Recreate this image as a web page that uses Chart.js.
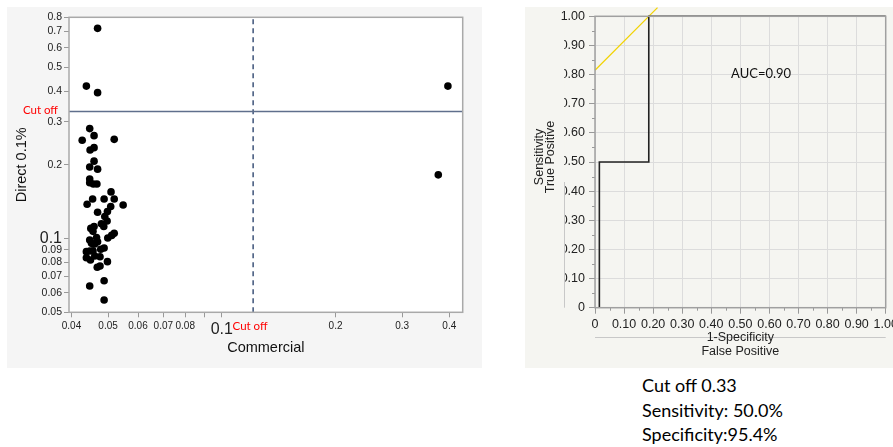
<!DOCTYPE html>
<html>
<head>
<meta charset="utf-8">
<script src="https://cdn.jsdelivr.net/npm/chart.js@4.4.1/dist/chart.umd.min.js"></script>
<style>
  body { margin: 0; width: 893px; height: 447px; background: #fff; position: relative; overflow: hidden; }
  #leftBox { position: absolute; left: 7px; top: 7px; width: 475px; height: 361px; background: #f5f5f5; }
  #rightBox { position: absolute; left: 525px; top: 7px; width: 368px; height: 361px; background: #f5f5f1; }
  #stats { position: absolute; left: 642px; top: 373px; font: 18px Lato, sans-serif; line-height: 24.5px; color: #000; }
</style>
</head>
<body>
<div id="leftBox"><canvas id="scatterChart" width="475" height="361"></canvas></div>
<div id="rightBox"><canvas id="rocChart" width="368" height="361"></canvas></div>
<div id="stats">Cut off 0.33<br>Sensitivity: 50.0%<br>Specificity:95.4%</div>

<script>
// left chart data (log-log)
const commercial = [0.0469, 0.0438, 0.0469, 0.0447, 0.0459, 0.0427, 0.0519, 0.0448, 0.0459, 0.0459,
  0.0447, 0.0469, 0.0447, 0.0447, 0.0457, 0.0467, 0.0509, 0.0519, 0.0455, 0.0440,
  0.0488, 0.0548, 0.0508, 0.0469, 0.0498, 0.0490, 0.0497, 0.0459, 0.0450, 0.0480,
  0.0487, 0.0456, 0.0519, 0.0511, 0.0499, 0.0447, 0.0466, 0.0469, 0.0452, 0.0461,
  0.0438, 0.0447, 0.0456, 0.0488, 0.0478, 0.0438, 0.0449, 0.0461, 0.0476, 0.0498,
  0.0468, 0.0476, 0.0488, 0.0447, 0.0488, 0.3966, 0.374];
const direct = [0.721, 0.419, 0.394, 0.281, 0.263, 0.252, 0.254, 0.230, 0.235, 0.207,
  0.196, 0.192, 0.175, 0.169, 0.167, 0.167, 0.155, 0.145, 0.145, 0.138,
  0.145, 0.137, 0.135, 0.128, 0.129, 0.123, 0.118, 0.112, 0.110, 0.115,
  0.112, 0.107, 0.105, 0.103, 0.1005, 0.0986, 0.101, 0.0971, 0.0956, 0.0950,
  0.0884, 0.0890, 0.0892, 0.0915, 0.0904, 0.0835, 0.0817, 0.0849, 0.0843, 0.0805,
  0.0764, 0.0773, 0.0673, 0.0640, 0.0561, 0.419, 0.182];
const cutDirect = 0.33;
const cutCommercial = 0.121;
const xTicks = [0.04, 0.05, 0.06, 0.07, 0.08, 0.09, 0.1, 0.2, 0.3, 0.4];
const xLabels = ['0.04', '0.05', '0.06', '0.07', '0.08', '', '0.1', '0.2', '0.3', '0.4'];
const yTicks = [0.05, 0.06, 0.07, 0.08, 0.09, 0.1, 0.2, 0.3, 0.4, 0.5, 0.6, 0.7, 0.8];
const xMin = 0.0394, xMax = 0.434, yMin = 0.05, yMax = 0.8;

// ROC data
const fpr = [0.015, 0.015, 0.185, 0.185, 1.0];
const tpr = [0, 0.5, 0.5, 1.0, 1.0];
const tangentX = [0, 0.215];
const tangentY = [0.815, 1.03];
const rocTicks = [0, 0.1, 0.2, 0.3, 0.4, 0.5, 0.6, 0.7, 0.8, 0.9, 1.0];
const aucText = 'AUC=0.90';

const pts = commercial.map((c, i) => ({ x: c, y: direct[i] }));

const smallFont = { size: 10, family: '"Liberation Sans", Arial' };
const bigFont = { size: 16, family: '"Liberation Sans", Arial' };

const leftPlugin = {
  id: 'leftDeco',
  beforeDatasetsDraw(chart) {
    const { ctx, chartArea: a } = chart;
    ctx.save();
    ctx.fillStyle = '#fff';
    ctx.fillRect(a.left, a.top, a.right - a.left, a.bottom - a.top);
    ctx.restore();
  },
  afterDraw(chart) {
    const { ctx, chartArea: a, scales } = chart;
    ctx.save();
    ctx.strokeStyle = '#a9a9a9';
    ctx.lineWidth = 1.5;
    ctx.strokeRect(a.left, a.top, a.right - a.left, a.bottom - a.top);
    ctx.fillStyle = '#ff0000';
    ctx.font = '11.5px Lato, sans-serif';
    ctx.textBaseline = 'middle';
    ctx.textAlign = 'right';
    ctx.fillText('Cut off', 51, scales.y.getPixelForValue(cutDirect) - 1);
    ctx.textAlign = 'center';
    ctx.fillText('Cut off', scales.x.getPixelForValue(cutCommercial) - 3, 319);
    ctx.fillStyle = '#111';
    ctx.font = '14.5px "Liberation Sans", Arial, sans-serif';
    ctx.fillText('Commercial', (a.left + a.right) / 2, 341);
    ctx.translate(15, (a.top + a.bottom) / 2);
    ctx.rotate(-Math.PI / 2);
    ctx.fillText('Direct 0.1%', 0, 0);
    ctx.restore();
  }
};

new Chart('scatterChart', {
  type: 'scatter',
  data: {
    datasets: [
      { data: [{ x: xMin, y: cutDirect }, { x: xMax, y: cutDirect }], showLine: true, borderColor: '#5f6f8c', borderWidth: 1.6, pointRadius: 0 },
      { data: [{ x: cutCommercial, y: yMin }, { x: cutCommercial, y: yMax }], showLine: true, borderColor: '#1f3864', borderWidth: 1.3, borderDash: [5, 4], pointRadius: 0 },
      { data: pts, backgroundColor: '#000', borderColor: '#000', pointRadius: 3.8, pointBorderWidth: 0 }
    ]
  },
  options: {
    responsive: false,
    animation: false,
    layout: { padding: { top: 10.3, right: 19.3, left: 0, bottom: 0 } },
    plugins: { legend: { display: false }, tooltip: { enabled: false } },
    scales: {
      x: {
        type: 'logarithmic', min: xMin, max: xMax,
        afterBuildTicks: s => { s.ticks = xTicks.map(v => ({ value: v })); },
        afterFit: s => { s.height = 55.7; s.paddingLeft = 0; s.paddingRight = 0; },
        grid: { drawOnChartArea: false, drawTicks: true, tickLength: 5, color: '#999' },
        border: { display: false },
        ticks: {
          autoSkip: false, maxRotation: 0, padding: 3, color: '#222',
          callback: (v, i) => xLabels[i],
          font: c => (c.tick && c.tick.value === 0.1) ? bigFont : smallFont
        }
      },
      y: {
        type: 'logarithmic', min: yMin, max: yMax,
        afterBuildTicks: s => { s.ticks = yTicks.map(v => ({ value: v })); },
        afterFit: s => { s.width = 62; s.paddingTop = 0; s.paddingBottom = 0; },
        grid: { drawOnChartArea: false, drawTicks: true, tickLength: 5, color: '#999' },
        border: { display: false },
        ticks: {
          autoSkip: false, padding: 2, color: '#222',
          callback: v => String(v),
          font: c => (c.tick && c.tick.value === 0.1) ? bigFont : { size: 10.5, family: '"Liberation Sans", Arial' }
        }
      }
    }
  },
  plugins: [leftPlugin]
});

const rocPlugin = {
  id: 'rocDeco',
  beforeDatasetsDraw(chart) {
    const { ctx, chartArea: a, scales } = chart;
    ctx.save();
    // minor ticks
    ctx.strokeStyle = '#999';
    ctx.lineWidth = 1;
    for (let i = 0; i < rocTicks.length - 1; i++) {
      const m = (rocTicks[i] + rocTicks[i + 1]) / 2;
      const px = Math.round(scales.x.getPixelForValue(m)) + 0.5;
      const py = Math.round(scales.y.getPixelForValue(m)) + 0.5;
      ctx.beginPath();
      ctx.moveTo(px, a.bottom); ctx.lineTo(px, a.bottom + 3);
      ctx.moveTo(a.left, py); ctx.lineTo(a.left - 3, py);
      ctx.stroke();
    }
    ctx.restore();
  },
  afterDraw(chart) {
    const { ctx, chartArea: a, scales } = chart;
    ctx.save();
    ctx.strokeStyle = '#a0a0a0';
    ctx.lineWidth = 1.5;
    ctx.strokeRect(a.left, a.top, a.right - a.left, a.bottom - a.top);
    // the y labels are cut at the axis box edge, as in the original
    ctx.fillStyle = '#f5f5f1';
    ctx.fillRect(32, a.top + 12, 7.2, a.bottom - a.top - 20);
    // separators
    ctx.strokeStyle = '#c8c8c8';
    ctx.lineWidth = 1;
    ctx.beginPath();
    ctx.moveTo(a.left, 330.5); ctx.lineTo(a.right, 330.5);
    ctx.moveTo(39.5, 175); ctx.lineTo(39.5, a.bottom);
    ctx.stroke();
    ctx.fillStyle = '#222';
    ctx.font = '12.5px "Liberation Sans", Arial, sans-serif';
    ctx.textAlign = 'center';
    ctx.textBaseline = 'middle';
    const cx = (a.left + a.right) / 2;
    ctx.fillText('1-Specificity', cx, 330.5);
    ctx.fillText('False Positive', cx, 345);
    ctx.save();
    ctx.translate(15, 150);
    ctx.rotate(-Math.PI / 2);
    ctx.fillText('Sensitivity', 0, 0);
    ctx.fillText('True Positive', 0, 11);
    ctx.restore();
    ctx.fillStyle = '#111';
    ctx.font = '13px Lato, sans-serif';
    ctx.textAlign = 'left';
    ctx.fillText(aucText, scales.x.getPixelForValue(0.468), scales.y.getPixelForValue(0.802));
    ctx.restore();
  }
};

new Chart('rocChart', {
  type: 'scatter',
  data: {
    datasets: [
      { data: fpr.map((v, i) => ({ x: v, y: tpr[i] })), showLine: true, borderColor: '#222', borderWidth: 1.6, pointRadius: 0, clip: false },
      { data: tangentX.map((v, i) => ({ x: v, y: tangentY[i] })), showLine: true, borderColor: '#f2d200', borderWidth: 1.2, pointRadius: 0, clip: false }
    ]
  },
  options: {
    responsive: false,
    animation: false,
    layout: { padding: { top: 9.3, right: 7.3, left: 0, bottom: 0 } },
    plugins: { legend: { display: false }, tooltip: { enabled: false } },
    scales: {
      x: {
        type: 'linear', min: 0, max: 1,
        afterBuildTicks: s => { s.ticks = rocTicks.map(v => ({ value: v })); },
        afterFit: s => { s.height = 60.3; s.paddingLeft = 0; s.paddingRight = 0; },
        grid: { color: '#dcdcdc', tickColor: '#999', tickLength: 6 },
        border: { display: false },
        ticks: {
          autoSkip: false, maxRotation: 0, padding: 3, color: '#222',
          font: { size: 12.5, family: '"Liberation Sans", Arial' },
          callback: v => v === 0 ? '0' : v.toFixed(2)
        }
      },
      y: {
        type: 'linear', min: 0, max: 1,
        afterBuildTicks: s => { s.ticks = rocTicks.map(v => ({ value: v })); },
        afterFit: s => { s.width = 70; s.paddingTop = 0; s.paddingBottom = 0; },
        grid: { color: '#dcdcdc', tickColor: '#999', tickLength: 6 },
        border: { display: false },
        ticks: {
          autoSkip: false, padding: 4, color: '#222',
          font: { size: 12.5, family: '"Liberation Sans", Arial' },
          callback: v => v === 0 ? '0' : v.toFixed(2)
        }
      }
    }
  },
  plugins: [rocPlugin]
});
</script>
</body>
</html>
